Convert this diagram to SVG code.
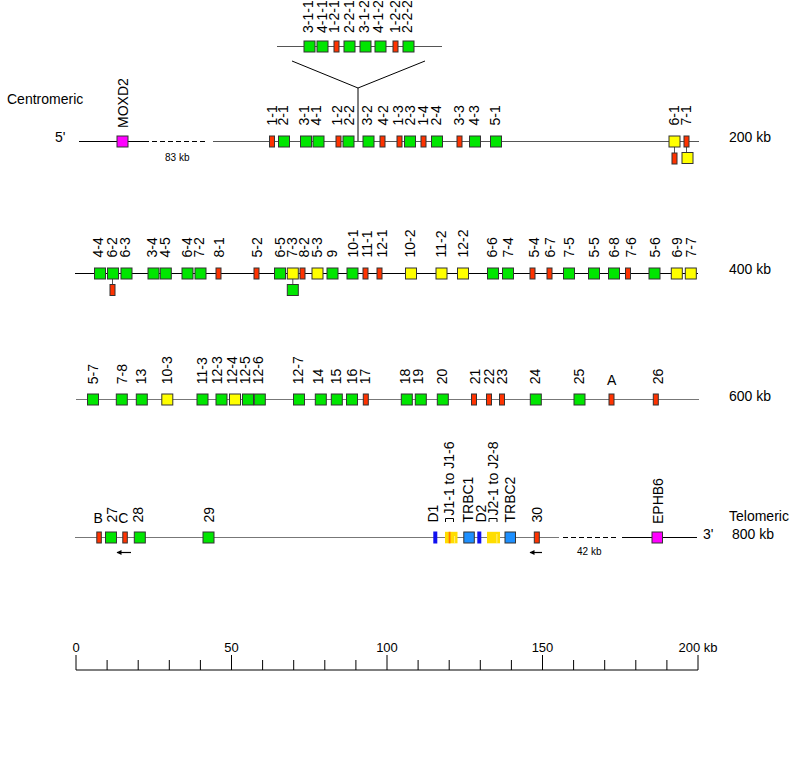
<svg xmlns="http://www.w3.org/2000/svg" width="803" height="764" viewBox="0 0 803 764">
<style>
text{font-family:"Liberation Sans",Arial,sans-serif;fill:#000}
.l{font-size:14px}
.sc{font-size:13px}
.t{font-size:14px}
.s{font-size:10px}
.g{fill:#00e600;stroke:#333;stroke-width:1}
.r{fill:#ff3300;stroke:#333;stroke-width:1}
.y{fill:#ffff00;stroke:#333;stroke-width:1}
.m{fill:#ff00ff;stroke:#333;stroke-width:1}
.c{fill:#1e90ff;stroke:#333;stroke-width:1}
.d{fill:#1010f0}
.j{fill:#ffdd00}
.ln{stroke:#555;stroke-width:1;fill:none}
.lk{stroke:#000;stroke-width:1;fill:none}
.lg{stroke:#777;stroke-width:1;fill:none}
.ds{stroke:#000;stroke-width:1;stroke-dasharray:5 3;fill:none}
.ar{stroke:#000;stroke-width:1.2;fill:none;marker-end:url(#ah)}
</style>
<defs>
<marker id="ah" viewBox="0 0 10 10" refX="9" refY="5" markerWidth="6" markerHeight="5" markerUnits="userSpaceOnUse" orient="auto">
<path d="M0,0 L10,5 L0,10 z" fill="#000"/>
</marker>
</defs>
<rect width="803" height="764" fill="#fff"/>

<g id="connectors">
<line class="ln" x1="277" y1="46.5" x2="442" y2="46.5"/>
<polyline class="lk" points="292,61 358,88 425,61"/>
<line class="lk" x1="358" y1="88" x2="358" y2="141.5"/>
<line class="lk" x1="79" y1="141.5" x2="149" y2="141.5"/>
<line class="ds" x1="152" y1="141.5" x2="207" y2="141.5"/>
<line class="ln" x1="213" y1="141.5" x2="699" y2="141.5"/>
<line class="ln" x1="674.5" y1="147" x2="674.5" y2="153"/>
<line class="ln" x1="686.5" y1="147" x2="686.5" y2="152.5"/>
<line class="lk" x1="75" y1="273.5" x2="698" y2="273.5"/>
<line class="ln" x1="112.5" y1="279" x2="112.5" y2="284.5"/>
<line class="ln" x1="292.8" y1="279" x2="292.8" y2="284.5"/>
<line class="lg" x1="76" y1="399.5" x2="699" y2="399.5"/>
<line class="lg" x1="75" y1="537.5" x2="559" y2="537.5"/>
<line class="ds" x1="563" y1="537.5" x2="618" y2="537.5"/>
<line class="lk" x1="622" y1="537.5" x2="697" y2="537.5"/>
<line class="ar" x1="131" y1="552.5" x2="117" y2="552.5"/>
<line class="ar" x1="542" y1="552.5" x2="530" y2="552.5"/>
</g>

<g id="labels">
<text class="t" x="7" y="104">Centromeric</text>
<text class="t" x="55" y="142">5'</text>
<text class="s" x="165" y="161">83 kb</text>
<text class="t" x="729" y="142">200 kb</text>
<text class="t" x="729" y="274">400 kb</text>
<text class="t" x="729" y="400.5">600 kb</text>
<text class="t" x="729" y="521">Telomeric</text>
<text class="t" x="703" y="539">3'</text>
<text class="t" x="732" y="539">800 kb</text>
<text class="s" x="577" y="555">42 kb</text>
</g>

<g id="n-3-1-1"><rect class="g" x="304" y="41" width="11" height="11"/><text class="l" transform="translate(313,33) rotate(-90)">3-1-1</text></g>
<g id="n-4-1-1"><rect class="g" x="317" y="41" width="11" height="11"/><text class="l" transform="translate(326.7,33) rotate(-90)">4-1-1</text></g>
<g id="n-1-2-1"><rect class="r" x="334" y="41" width="5" height="11"/><text class="l" transform="translate(338.5,33) rotate(-90)">1-2-1</text></g>
<g id="n-2-2-1"><rect class="g" x="344" y="41" width="11" height="11"/><text class="l" transform="translate(353.5,33) rotate(-90)">2-2-1</text></g>
<g id="n-3-1-2"><rect class="g" x="360" y="41" width="11" height="11"/><text class="l" transform="translate(369,33) rotate(-90)">3-1-2</text></g>
<g id="n-4-1-2"><rect class="g" x="375" y="41" width="11" height="11"/><text class="l" transform="translate(383,33) rotate(-90)">4-1-2</text></g>
<g id="n-1-2-2"><rect class="r" x="393" y="41" width="5" height="11"/><text class="l" transform="translate(400,33) rotate(-90)">1-2-2</text></g>
<g id="n-2-2-2"><rect class="g" x="403" y="41" width="11" height="11"/><text class="l" transform="translate(411.7,33) rotate(-90)">2-2-2</text></g>

<g id="n-MOXD2"><rect class="m" x="117" y="136" width="11" height="11"/><text class="l" transform="translate(128,128) rotate(-90)">MOXD2</text></g>
<g id="n-1-1"><rect class="r" x="269.5" y="136" width="5" height="11"/><text class="l" transform="translate(276.7,125.5) rotate(-90)">1-1</text></g>
<g id="n-2-1"><rect class="g" x="278.5" y="136" width="11" height="11"/><text class="l" transform="translate(288,125.5) rotate(-90)">2-1</text></g>
<g id="n-3-1"><rect class="g" x="300.5" y="136" width="11" height="11"/><text class="l" transform="translate(309,125.5) rotate(-90)">3-1</text></g>
<g id="n-4-1"><rect class="g" x="313" y="136" width="11" height="11"/><text class="l" transform="translate(321,125.5) rotate(-90)">4-1</text></g>
<g id="n-1-2"><rect class="r" x="336" y="136" width="5" height="11"/><text class="l" transform="translate(342,125.5) rotate(-90)">1-2</text></g>
<g id="n-2-2"><rect class="g" x="343" y="136" width="11" height="11"/><text class="l" transform="translate(353.7,125.5) rotate(-90)">2-2</text></g>
<g id="n-3-2"><rect class="g" x="363" y="136" width="11" height="11"/><text class="l" transform="translate(372,125.5) rotate(-90)">3-2</text></g>
<g id="n-4-2"><rect class="r" x="380" y="136" width="5" height="11"/><text class="l" transform="translate(388,125.5) rotate(-90)">4-2</text></g>
<g id="n-1-3"><rect class="r" x="397" y="136" width="5" height="11"/><text class="l" transform="translate(403,125.5) rotate(-90)">1-3</text></g>
<g id="n-2-3"><rect class="g" x="404.5" y="136" width="11" height="11"/><text class="l" transform="translate(414.5,125.5) rotate(-90)">2-3</text></g>
<g id="n-1-4"><rect class="r" x="421" y="136" width="5" height="11"/><text class="l" transform="translate(428,125.5) rotate(-90)">1-4</text></g>
<g id="n-2-4"><rect class="g" x="431.5" y="136" width="11" height="11"/><text class="l" transform="translate(440.5,125.5) rotate(-90)">2-4</text></g>
<g id="n-3-3"><rect class="r" x="457" y="136" width="5" height="11"/><text class="l" transform="translate(463.7,125.5) rotate(-90)">3-3</text></g>
<g id="n-4-3"><rect class="g" x="469.5" y="136" width="11" height="11"/><text class="l" transform="translate(479,125.5) rotate(-90)">4-3</text></g>
<g id="n-5-1"><rect class="g" x="490.5" y="136" width="11" height="11"/><text class="l" transform="translate(499.7,125.5) rotate(-90)">5-1</text></g>
<g id="n-6-1"><rect class="y" x="669" y="136" width="11" height="11"/><rect class="r" x="672" y="153" width="5" height="11"/><text class="l" transform="translate(679,125.5) rotate(-90)">6-1</text></g>
<g id="n-7-1"><rect class="r" x="684" y="136" width="5" height="11"/><rect class="y" x="682" y="152.5" width="11" height="11"/><text class="l" transform="translate(691,125.5) rotate(-90)">7-1</text></g>

<g id="n-4-4"><rect class="g" x="94.5" y="268" width="11" height="11"/><text class="l" transform="translate(102.7,257.5) rotate(-90)">4-4</text></g>
<g id="n-6-2"><rect class="g" x="107.5" y="268" width="11" height="11"/><rect class="r" x="110" y="284.5" width="5" height="11"/><text class="l" transform="translate(116.7,257.5) rotate(-90)">6-2</text></g>
<g id="n-6-3"><rect class="g" x="121" y="268" width="11" height="11"/><text class="l" transform="translate(130,257.5) rotate(-90)">6-3</text></g>
<g id="n-3-4"><rect class="g" x="148" y="268" width="11" height="11"/><text class="l" transform="translate(156.7,257.5) rotate(-90)">3-4</text></g>
<g id="n-4-5"><rect class="g" x="160.3" y="268" width="11" height="11"/><text class="l" transform="translate(170,257.5) rotate(-90)">4-5</text></g>
<g id="n-6-4"><rect class="g" x="182" y="268" width="11" height="11"/><text class="l" transform="translate(191.7,257.5) rotate(-90)">6-4</text></g>
<g id="n-7-2"><rect class="g" x="195" y="268" width="11" height="11"/><text class="l" transform="translate(204,257.5) rotate(-90)">7-2</text></g>
<g id="n-8-1"><rect class="r" x="216" y="268" width="5" height="11"/><text class="l" transform="translate(224,257.5) rotate(-90)">8-1</text></g>
<g id="n-5-2"><rect class="r" x="254" y="268" width="5" height="11"/><text class="l" transform="translate(261.7,257.5) rotate(-90)">5-2</text></g>
<g id="n-6-5"><rect class="g" x="274.5" y="268" width="11" height="11"/><text class="l" transform="translate(285,257.5) rotate(-90)">6-5</text></g>
<g id="n-7-3"><rect class="y" x="287.3" y="268" width="11" height="11"/><rect class="g" x="287.3" y="284.5" width="11" height="11"/><text class="l" transform="translate(296.7,257.5) rotate(-90)">7-3</text></g>
<g id="n-8-2"><rect class="r" x="300" y="268" width="5" height="11"/><text class="l" transform="translate(309.3,257.5) rotate(-90)">8-2</text></g>
<g id="n-5-3"><rect class="y" x="312" y="268" width="11" height="11"/><text class="l" transform="translate(321.7,257.5) rotate(-90)">5-3</text></g>
<g id="n-9"><rect class="g" x="327" y="268" width="11" height="11"/><text class="l" transform="translate(336.7,257.5) rotate(-90)">9</text></g>
<g id="n-10-1"><rect class="g" x="347" y="268" width="11" height="11"/><text class="l" transform="translate(358.3,257.5) rotate(-90)">10-1</text></g>
<g id="n-11-1"><rect class="r" x="363" y="268" width="5" height="11"/><text class="l" transform="translate(371.7,257.5) rotate(-90)">11-1</text></g>
<g id="n-12-1"><rect class="r" x="377" y="268" width="5" height="11"/><text class="l" transform="translate(386.7,257.5) rotate(-90)">12-1</text></g>
<g id="n-10-2"><rect class="y" x="405.5" y="268" width="11" height="11"/><text class="l" transform="translate(415,257.5) rotate(-90)">10-2</text></g>
<g id="n-11-2"><rect class="y" x="436" y="268" width="11" height="11"/><text class="l" transform="translate(445.5,257.5) rotate(-90)">11-2</text></g>
<g id="n-12-2"><rect class="y" x="457.5" y="268" width="11" height="11"/><text class="l" transform="translate(467.5,257.5) rotate(-90)">12-2</text></g>
<g id="n-6-6"><rect class="g" x="487.5" y="268" width="11" height="11"/><text class="l" transform="translate(497,257.5) rotate(-90)">6-6</text></g>
<g id="n-7-4"><rect class="g" x="502.5" y="268" width="11" height="11"/><text class="l" transform="translate(513,257.5) rotate(-90)">7-4</text></g>
<g id="n-5-4"><rect class="r" x="530" y="268" width="5" height="11"/><text class="l" transform="translate(538.7,257.5) rotate(-90)">5-4</text></g>
<g id="n-6-7"><rect class="r" x="547" y="268" width="5" height="11"/><text class="l" transform="translate(554.5,257.5) rotate(-90)">6-7</text></g>
<g id="n-7-5"><rect class="g" x="563.5" y="268" width="11" height="11"/><text class="l" transform="translate(573.7,257.5) rotate(-90)">7-5</text></g>
<g id="n-5-5"><rect class="g" x="588.5" y="268" width="11" height="11"/><text class="l" transform="translate(598.7,257.5) rotate(-90)">5-5</text></g>
<g id="n-6-8"><rect class="g" x="608.5" y="268" width="11" height="11"/><text class="l" transform="translate(618.8,257.5) rotate(-90)">6-8</text></g>
<g id="n-7-6"><rect class="r" x="625.5" y="268" width="5" height="11"/><text class="l" transform="translate(635.5,257.5) rotate(-90)">7-6</text></g>
<g id="n-5-6"><rect class="g" x="649" y="268" width="11" height="11"/><text class="l" transform="translate(659.7,257.5) rotate(-90)">5-6</text></g>
<g id="n-6-9"><rect class="y" x="671.3" y="268" width="11" height="11"/><text class="l" transform="translate(682,257.5) rotate(-90)">6-9</text></g>
<g id="n-7-7"><rect class="y" x="685.3" y="268" width="11" height="11"/><text class="l" transform="translate(695.5,257.5) rotate(-90)">7-7</text></g>

<g id="n-5-7"><rect class="g" x="87.5" y="394" width="11" height="11"/><text class="l" transform="translate(98,384.3) rotate(-90)">5-7</text></g>
<g id="n-7-8"><rect class="g" x="116.3" y="394" width="11" height="11"/><text class="l" transform="translate(126.7,384.3) rotate(-90)">7-8</text></g>
<g id="n-13"><rect class="g" x="136.3" y="394" width="11" height="11"/><text class="l" transform="translate(146,384.3) rotate(-90)">13</text></g>
<g id="n-10-3"><rect class="y" x="161.8" y="394" width="11" height="11"/><text class="l" transform="translate(171.7,384.3) rotate(-90)">10-3</text></g>
<g id="n-11-3"><rect class="g" x="197" y="394" width="11" height="11"/><text class="l" transform="translate(206.7,384.3) rotate(-90)">11-3</text></g>
<g id="n-12-3"><rect class="g" x="216" y="394" width="11" height="11"/><text class="l" transform="translate(221.7,384.3) rotate(-90)">12-3</text></g>
<g id="n-12-4"><rect class="y" x="229.5" y="394" width="11" height="11"/><text class="l" transform="translate(236.7,384.3) rotate(-90)">12-4</text></g>
<g id="n-12-5"><rect class="g" x="242.5" y="394" width="11" height="11"/><text class="l" transform="translate(250,384.3) rotate(-90)">12-5</text></g>
<g id="n-12-6"><rect class="g" x="254.3" y="394" width="11" height="11"/><text class="l" transform="translate(263.3,384.3) rotate(-90)">12-6</text></g>
<g id="n-12-7"><rect class="g" x="293.5" y="394" width="11" height="11"/><text class="l" transform="translate(303.3,384.3) rotate(-90)">12-7</text></g>
<g id="n-14"><rect class="g" x="315.3" y="394" width="11" height="11"/><text class="l" transform="translate(323.3,384.3) rotate(-90)">14</text></g>
<g id="n-15"><rect class="g" x="331.3" y="394" width="11" height="11"/><text class="l" transform="translate(341,384.3) rotate(-90)">15</text></g>
<g id="n-16"><rect class="g" x="346.5" y="394" width="11" height="11"/><text class="l" transform="translate(356.7,384.3) rotate(-90)">16</text></g>
<g id="n-17"><rect class="r" x="363.3" y="394" width="5" height="11"/><text class="l" transform="translate(370,384.3) rotate(-90)">17</text></g>
<g id="n-18"><rect class="g" x="401.3" y="394" width="11" height="11"/><text class="l" transform="translate(410,384.3) rotate(-90)">18</text></g>
<g id="n-19"><rect class="g" x="415.3" y="394" width="11" height="11"/><text class="l" transform="translate(423.3,384.3) rotate(-90)">19</text></g>
<g id="n-20"><rect class="g" x="437.3" y="394" width="11" height="11"/><text class="l" transform="translate(446.7,384.3) rotate(-90)">20</text></g>
<g id="n-21"><rect class="r" x="471.5" y="394" width="5" height="11"/><text class="l" transform="translate(480,384.3) rotate(-90)">21</text></g>
<g id="n-22"><rect class="r" x="486.5" y="394" width="5" height="11"/><text class="l" transform="translate(494,384.3) rotate(-90)">22</text></g>
<g id="n-23"><rect class="r" x="499.5" y="394" width="5" height="11"/><text class="l" transform="translate(507.3,384.3) rotate(-90)">23</text></g>
<g id="n-24"><rect class="g" x="530.3" y="394" width="11" height="11"/><text class="l" transform="translate(540,384.3) rotate(-90)">24</text></g>
<g id="n-25"><rect class="g" x="574" y="394" width="11" height="11"/><text class="l" transform="translate(584,384.3) rotate(-90)">25</text></g>
<g id="n-A"><rect class="r" x="609" y="394" width="5" height="11"/><text class="t" x="611.7" y="385" text-anchor="middle">A</text></g>
<g id="n-26"><rect class="r" x="653.3" y="394" width="5" height="11"/><text class="l" transform="translate(663.3,384.3) rotate(-90)">26</text></g>

<g id="n-B"><rect class="r" x="96.8" y="532" width="4.5" height="11"/><text class="t" x="98.2" y="523" text-anchor="middle">B</text></g>
<g id="n-27"><rect class="g" x="105.5" y="532" width="11" height="11"/><text class="l" transform="translate(117,522.5) rotate(-90)">27</text></g>
<g id="n-C"><rect class="r" x="122.8" y="532" width="4.5" height="11"/><text class="t" x="123.2" y="523" text-anchor="middle">C</text></g>
<g id="n-28"><rect class="g" x="134.3" y="532" width="11" height="11"/><text class="l" transform="translate(143.3,522.5) rotate(-90)">28</text></g>
<g id="n-29"><rect class="g" x="203" y="532" width="11" height="11"/><text class="l" transform="translate(214,522.5) rotate(-90)">29</text></g>
<g id="n-D1"><rect class="d" x="433.3" y="531.5" width="4" height="12"/><text class="l" transform="translate(438,522.5) rotate(-90)">D1</text></g>
<g id="n-J1"><rect class="j" x="445" y="531.8" width="12.5" height="11.5"/><rect x="448.7" y="531.8" width="1.8" height="11.5" fill="#ff7700"/><rect x="454.3" y="536" width="0.8" height="7" fill="#fff3a0"/><path d="M445.5,522 V518.5 H453.5 V522" fill="none" stroke="#000" stroke-width="1"/><text class="l" transform="translate(454,515.5) rotate(-90)">J1-1 to J1-6</text></g>
<g id="n-TRBC1"><rect class="c" x="463.8" y="532" width="10.5" height="11"/><text class="l" transform="translate(472.7,522.5) rotate(-90)">TRBC1</text></g>
<g id="n-D2"><rect class="d" x="477.3" y="531.5" width="4" height="12"/><text class="l" transform="translate(486,522.5) rotate(-90)">D2</text></g>
<g id="n-J2"><rect class="j" x="487" y="531.8" width="13" height="11.5"/><rect x="496.5" y="534" width="0.8" height="9" fill="#fff3a0"/><path d="M489,522 V518.5 H497 V522" fill="none" stroke="#000" stroke-width="1"/><text class="l" transform="translate(497.7,515.5) rotate(-90)">J2-1 to J2-8</text></g>
<g id="n-TRBC2"><rect class="c" x="505" y="532" width="10.5" height="11"/><text class="l" transform="translate(515,522.5) rotate(-90)">TRBC2</text></g>
<g id="n-30"><rect class="r" x="534.3" y="532" width="5" height="11"/><text class="l" transform="translate(541.7,522.5) rotate(-90)">30</text></g>
<g id="n-EPHB6"><rect class="m" x="652" y="532" width="10.5" height="11"/><text class="l" transform="translate(663,524) rotate(-90)">EPHB6</text></g>

<g id="scale">
<line class="lk" x1="76" y1="670" x2="698" y2="670"/>
<path class="lk" d="M76,655V670M231.5,655V670M387,655V670M542.5,655V670M698,655V670M107.1,660V670M138.2,660V670M169.3,660V670M200.4,660V670M262.6,660V670M293.7,660V670M324.8,660V670M355.9,660V670M418.1,660V670M449.2,660V670M480.3,660V670M511.4,660V670M573.6,660V670M604.7,660V670M635.8,660V670M666.9,660V670"/>
<text class="sc" x="76" y="652" text-anchor="middle">0</text>
<text class="sc" x="231.5" y="652" text-anchor="middle">50</text>
<text class="sc" x="387" y="652" text-anchor="middle">100</text>
<text class="sc" x="542.5" y="652" text-anchor="middle">150</text>
<text class="sc" x="698" y="652" text-anchor="middle">200 kb</text>
</g>
</svg>
